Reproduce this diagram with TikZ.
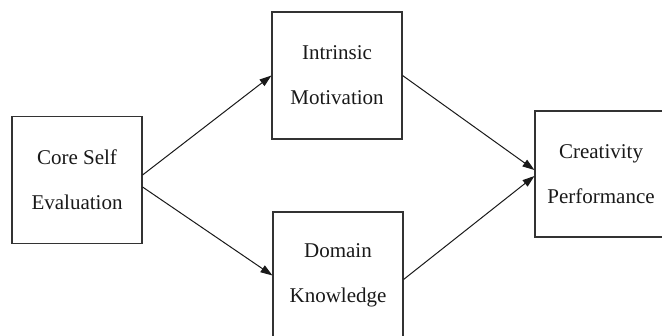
\documentclass[tikz,border=0pt]{standalone}
\usepackage{fontspec}
\setmainfont{Liberation Serif}
\usetikzlibrary{arrows.meta}
\begin{document}
\begin{tikzpicture}[x=1pt,y=-1pt,
  box/.style={draw=black!80, line width=1.1pt, rectangle, inner sep=0pt,
    minimum width=130pt, minimum height=127pt, align=center,
    font=\fontsize{21}{45}\selectfont, text=black!90},
  arr/.style={draw=black!90, line width=1pt, -{Triangle[length=12pt,width=8pt]}}]
\useasboundingbox (0,0) rectangle (662,336);
\clip (0,0) rectangle (662,336);
\node[box] (cse) at (77,180) {Core Self\\Evaluation};
\node[box] (im) at (337,75.5) {Intrinsic\\Motivation};
\node[box] (dk) at (338,275.5) {Domain\\Knowledge};
\node[box, minimum width=132pt, minimum height=126pt] (cp) at (601,174) {Creativity\\Performance};
\draw[arr] ([yshift=5pt]cse.east) -- (im.west);
\draw[arr] ([yshift=-7pt]cse.east) -- (dk.west);
\draw[arr] (im.east) -- ([yshift=4pt]cp.west);
\draw[arr] ([yshift=-4pt]dk.east) -- ([yshift=-2pt]cp.west);
\end{tikzpicture}
\end{document}
